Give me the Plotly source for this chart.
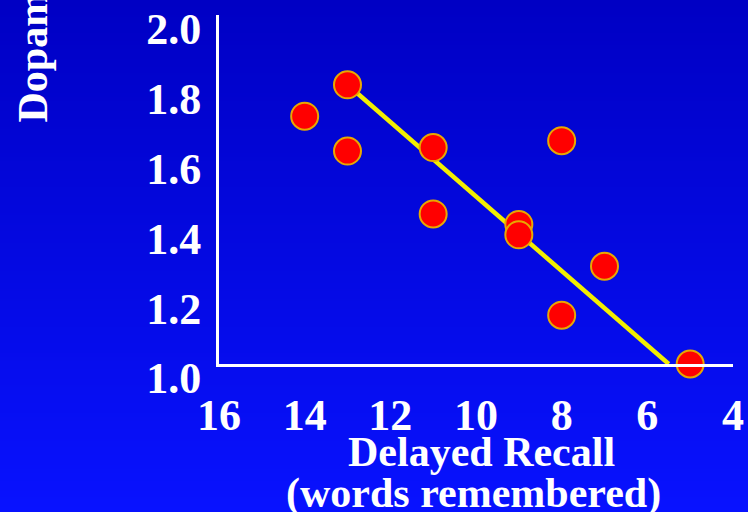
import base64
import struct
import zlib

import plotly.graph_objects as go

# ---- data ----
recall_words = [14, 13, 13, 11, 11, 9, 9, 8, 8, 7, 5]
dopamine = [1.71, 1.80, 1.61, 1.62, 1.43, 1.40, 1.37, 1.64, 1.14, 1.28, 1.00]

fit_x = [13, 5.5]
fit_y = [1.80, 1.00]

x_ticks = [16, 14, 12, 10, 8, 6, 4]
x_ticktext = ["16", "14", "12", "10", "8", "6", "4"]
y_ticks = [1.0, 1.2, 1.4, 1.6, 1.8, 2.0]
y_ticktext = ["1.0", "1.2", "1.4", "1.6", "1.8", "2.0"]

x_title = "Delayed Recall"
x_subtitle = "(words remembered)"
y_title = "Dopamine Transporters"

# ---- styling ----
W, H = 748, 512
FONT = "Liberation Serif, Times New Roman, serif"
WHITE = "#ffffff"


def gradient_png(height, top, bottom):
    rows = bytearray()
    for i in range(height):
        t = i / (height - 1)
        px = [round(top[k] + (bottom[k] - top[k]) * t) for k in range(3)]
        rows += b"\x00" + bytes(px)

    def chunk(tag, data):
        return (struct.pack(">I", len(data)) + tag + data +
                struct.pack(">I", zlib.crc32(tag + data) & 0xFFFFFFFF))

    ihdr = struct.pack(">IIBBBBB", 1, height, 8, 2, 0, 0, 0)
    png = (b"\x89PNG\r\n\x1a\n" + chunk(b"IHDR", ihdr) +
           chunk(b"IDAT", zlib.compress(bytes(rows))) + chunk(b"IEND", b""))
    return "data:image/png;base64," + base64.b64encode(png).decode()


bg = gradient_png(256, (0, 0, 196), (8, 18, 255))

fig = go.Figure()
fig.add_trace(go.Scatter(
    x=fit_x, y=fit_y, mode="lines",
    line=dict(color="#f2ee00", width=4.5),
    hoverinfo="skip", showlegend=False, cliponaxis=False,
))
fig.add_trace(go.Scatter(
    x=recall_words, y=dopamine, mode="markers",
    marker=dict(size=27, color="#ff0000",
                line=dict(color="#e8a800", width=2)),
    showlegend=False, cliponaxis=False,
))

x0, x1 = 219 / W, 733 / W
y0, y1 = 1 - 364 / H, 1 - 15 / H

fig.update_layout(
    width=W, height=H,
    margin=dict(l=0, r=0, t=0, b=0, autoexpand=False),
    paper_bgcolor="#0000e0",
    plot_bgcolor="rgba(0,0,0,0)",
    font=dict(family=FONT, color=WHITE, size=44, weight="bold"),
    images=[dict(source=bg, xref="paper", yref="paper", x=0, y=1,
                 sizex=1, sizey=1, sizing="stretch", layer="below",
                 xanchor="left", yanchor="top")],
    xaxis=dict(
        domain=[x0, x1], range=[16, 4], autorange=False,
        tickvals=x_ticks, ticktext=x_ticktext,
        showgrid=False, zeroline=False, automargin=False,
        showline=True, linecolor=WHITE, linewidth=3,
        ticks="", ticklabelstandoff=10,
        tickfont=dict(family=FONT, size=44, color=WHITE, weight="bold"),
    ),
    yaxis=dict(
        domain=[y0, y1], range=[1.0, 2.0], autorange=False,
        tickvals=y_ticks, ticktext=y_ticktext,
        showgrid=False, zeroline=False, automargin=False,
        showline=True, linecolor=WHITE, linewidth=3,
        ticks="", ticklabelstandoff=6, ticklabelshift=14,
        tickfont=dict(family=FONT, size=44, color=WHITE, weight="bold"),
    ),
    annotations=[
        dict(text=x_title, xref="paper", yref="paper",
             x=481 / W, y=1 - 452 / H, xanchor="center", yanchor="middle",
             showarrow=False,
             font=dict(family=FONT, size=42, color=WHITE, weight="bold")),
        dict(text=x_subtitle, xref="paper", yref="paper",
             x=473 / W, y=1 - 493 / H, xanchor="center", yanchor="middle",
             showarrow=False,
             font=dict(family=FONT, size=42, color=WHITE, weight="bold")),
        dict(text=y_title, xref="paper", yref="paper",
             x=32 / W, y=1 - 125 / H, xanchor="center", yanchor="bottom",
             textangle=-90, showarrow=False,
             font=dict(family=FONT, size=42, color=WHITE, weight="bold")),
    ],
)

fig.write_html(
    "out.html",
    config={"displayModeBar": False},
    post_script="document.body.style.margin='0';"
                "document.body.style.overflow='hidden';",
)
